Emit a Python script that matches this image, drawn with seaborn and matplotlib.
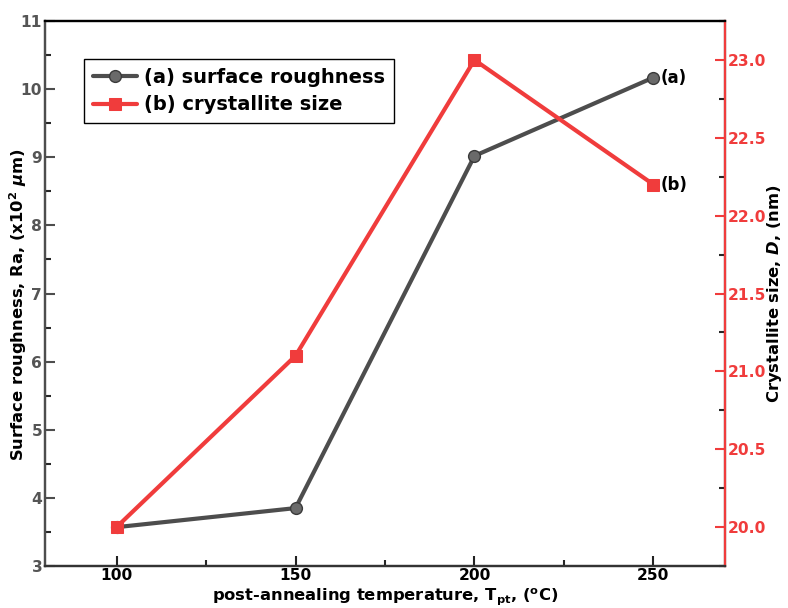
import matplotlib
matplotlib.use("Agg")
import matplotlib.pyplot as plt
import seaborn as sns
import pandas as pd
from matplotlib.ticker import MultipleLocator, FormatStrFormatter

temperature = [100, 150, 200, 250]
roughness = [3.57, 3.85, 9.02, 10.17]
crystallite = [20.0, 21.1, 23.0, 22.2]

gray = "#4d4d4d"
red = "#f03c3c"

sns.set_theme(style="ticks")
plt.rcParams["font.family"] = ["DejaVu Sans"]
plt.rcParams["font.weight"] = "bold"
plt.rcParams["text.color"] = "black"
plt.rcParams["axes.labelcolor"] = "black"
plt.rcParams["mathtext.fontset"] = "custom"
plt.rcParams["mathtext.rm"] = "DejaVu Sans:bold"
plt.rcParams["mathtext.it"] = "DejaVu Sans:bold:italic"
plt.rcParams["mathtext.bf"] = "DejaVu Sans:bold"

df = pd.DataFrame({"T": temperature, "Ra": roughness, "D": crystallite})

# axes box in pixels: left, top, right, bottom
L, T, R, B = 45, 21, 725, 566
fig = plt.figure(figsize=(7.88, 6.08), dpi=100)
ax = fig.add_axes([L / 788, 1 - B / 608, (R - L) / 788, (B - T) / 608])
ax2 = ax.twinx()

sns.lineplot(data=df, x="T", y="Ra", ax=ax, color=gray, lw=3.0, marker="o",
             markersize=8.5, markerfacecolor="#6a6a6a", markeredgecolor="#3a3a3a",
             markeredgewidth=1, label="(a) surface roughness", legend=False)
sns.lineplot(data=df, x="T", y="D", ax=ax2, color=red, lw=3.0, marker="s",
             markersize=8.5, markerfacecolor=red, markeredgecolor=red,
             label="(b) crystallite size", legend=False)

ax.set_xlim(80, 270)
ax.set_ylim(3, 11)
ax2.set_ylim(19.75, 23.25)

ax.xaxis.set_major_locator(MultipleLocator(50))
ax.xaxis.set_minor_locator(MultipleLocator(25))
ax.yaxis.set_major_locator(MultipleLocator(1))
ax.yaxis.set_minor_locator(MultipleLocator(0.5))
ax2.yaxis.set_major_locator(MultipleLocator(0.5))
ax2.yaxis.set_minor_locator(MultipleLocator(0.25))
ax2.yaxis.set_major_formatter(FormatStrFormatter("%.1f"))

for a in (ax, ax2):
    a.tick_params(which="major", direction="in", length=7, width=1.5,
                  labelsize=11.2, pad=2)
    a.tick_params(which="minor", direction="in", length=4, width=1.5)
    for s in a.spines.values():
        s.set_linewidth(1.6)

ax.tick_params(axis="y", colors=gray, labelcolor="#555555")
ax.tick_params(axis="x", colors="#222222", labelcolor="black", pad=1.5)
ax2.tick_params(axis="y", colors=red, labelcolor=red, pad=2)
ax2.spines["right"].set_color(red)
ax2.spines["left"].set_color(gray)
ax2.spines["top"].set_color("black")
ax2.spines["bottom"].set_color("#333333")
ax.spines["left"].set_color(gray)

for t in ax.get_xticklabels() + ax.get_yticklabels() + ax2.get_yticklabels():
    t.set_fontweight("bold")

ax.set_xlabel(r"post-annealing temperature, T$_{\rm pt}$, ($^{\rm o}$C)",
              fontsize=11.8, fontweight="bold", color="black")
ax.set_ylabel(r"Surface roughness, Ra, (x10$^{\rm 2}$ $\mu$m)",
              fontsize=11.8, fontweight="bold", color="black")
ax2.set_ylabel(r"Crystallite size, $D$, (nm)", fontsize=11.8,
               fontweight="bold", color="black")
ax.xaxis.set_label_coords(0.5, -(587 - B) / (B - T))
ax.yaxis.set_label_coords(-(L - 29) / (R - L), 0.48)
ax2.yaxis.set_label_coords((765 - L) / (R - L), 0.5)

ax.annotate("(a)", (temperature[-1], roughness[-1]), xytext=(5, 0),
            textcoords="offset points", va="center", ha="left",
            fontsize=12, fontweight="bold", color="black")
ax2.annotate("(b)", (temperature[-1], crystallite[-1]), xytext=(5, 0),
             textcoords="offset points", va="center", ha="left",
             fontsize=12, fontweight="bold", color="black")

h1, l1 = ax.get_legend_handles_labels()
h2, l2 = ax2.get_legend_handles_labels()
leg = ax2.legend(h1 + h2, l1 + l2, loc="upper left",
                 bbox_to_anchor=((84 - L) / (R - L), 1 - (59 - T) / (B - T)),
                 fancybox=False, framealpha=1, edgecolor="black", fontsize=14,
                 handlelength=2.3, borderpad=0.45, labelspacing=0.45,
                 handletextpad=0.35, borderaxespad=0)
leg.get_frame().set_linewidth(1.0)
for t in leg.get_texts():
    t.set_fontweight("bold")
    t.set_color("black")

fig.savefig("out.png", dpi=100)
